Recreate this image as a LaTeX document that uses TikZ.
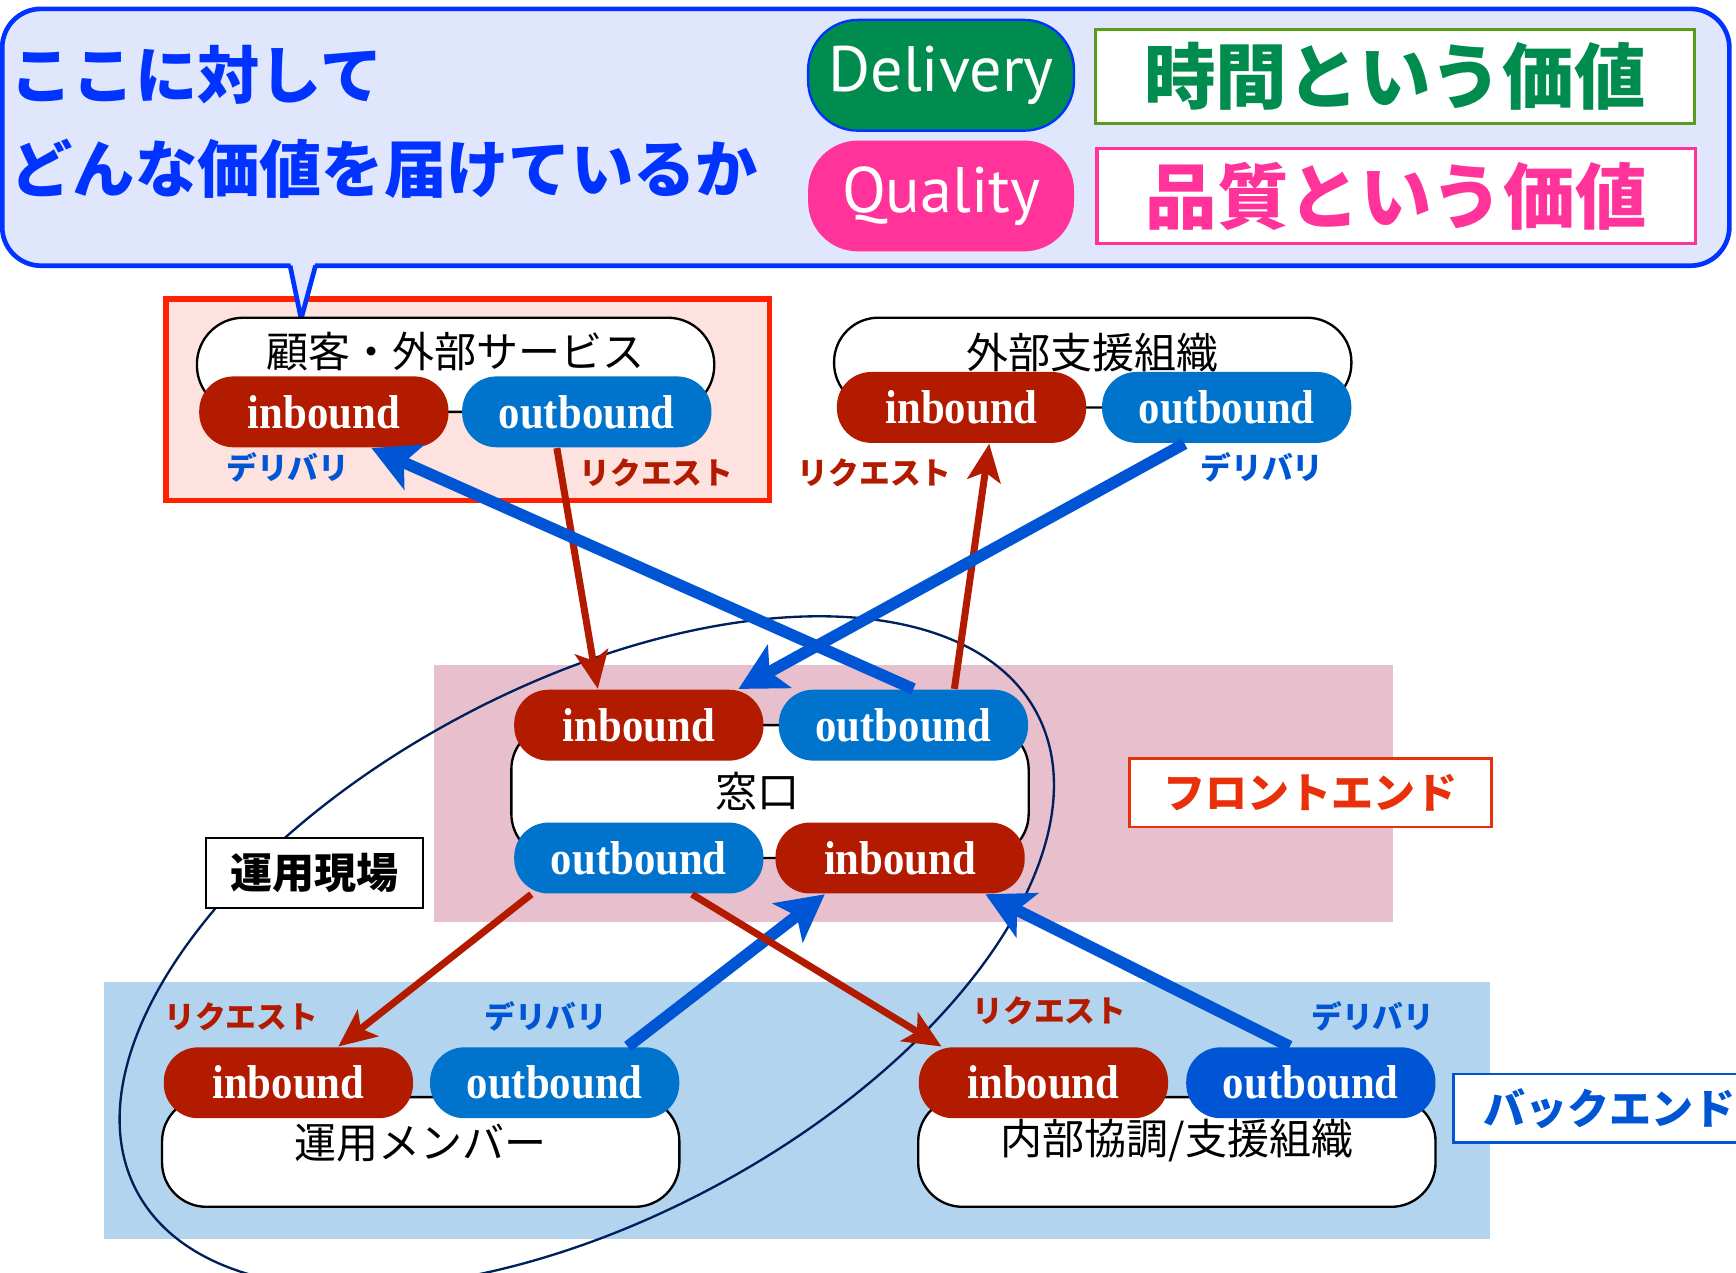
\documentclass[tikz,border=0pt]{standalone}
\usepackage{fontspec}
\setmainfont{Liberation Serif}
\newfontfamily\jpfont{Noto Sans CJK JP}
\newfontfamily\boundfont[FakeStretch=0.9]{Liberation Serif}
\newfontfamily\valuefont{PT Sans}
\usetikzlibrary{arrows.meta}

\definecolor{inred}{HTML}{B31B00}
\definecolor{outblue}{HTML}{0073CC}
\definecolor{outdeep}{HTML}{0055D4}
\definecolor{calloutblue}{HTML}{0033FF}
\definecolor{calloutfill}{HTML}{E0E6FC}
\definecolor{frontfill}{HTML}{E8C0CD}
\definecolor{backfill}{HTML}{B3D4EE}
\definecolor{custfill}{HTML}{FDE2DF}
\definecolor{custline}{HTML}{FF2200}
\definecolor{deliverygreen}{HTML}{008C4E}
\definecolor{deliveryline}{HTML}{5C9A1C}
\definecolor{qualitypink}{HTML}{FF3399}
\definecolor{fieldnavy}{HTML}{00205C}
\definecolor{frontred}{HTML}{E8300A}

\begin{document}
\begin{tikzpicture}[x=0.01cm, y=-0.01cm,
	org/.style={draw=black, line width=0.6pt, fill=white, minimum width=4.67cm, inner sep=0pt, font=\jpfont\fontsize{10.8}{12}\selectfont},
	bound/.style={rounded corners=0.31cm, minimum width=2.25cm, minimum height=0.64cm, inner sep=0pt, text=white, font=\boundfont\bfseries\fontsize{12.2}{13}\selectfont},
	in_pill/.style={bound, fill=inred},
	out_pill/.style={bound, fill=outblue},
	req_arrow/.style={draw=inred, line width=1.8pt, -{Stealth[length=0.34cm, width=0.3cm, inset=0.08cm]}},
	del_arrow/.style={draw=outdeep, line width=3pt, -{Stealth[length=0.42cm, width=0.44cm, inset=0.1cm]}},
	req_label/.style={text=inred, font=\jpfont\bfseries\fontsize{7.9}{9}\selectfont},
	del_label/.style={text=outdeep, font=\jpfont\bfseries\fontsize{7.9}{9}\selectfont},
	tag/.style={line width=0.7pt, fill=white, inner sep=0pt, minimum height=0.62cm, font=\jpfont\bfseries\fontsize{10.8}{12}\selectfont},
	value_pill/.style={rounded corners=0.45cm, minimum width=2.4cm, minimum height=1cm, text=white, font=\valuefont\fontsize{16.5}{18}\selectfont},
	value_box/.style={line width=0.8pt, fill=white, minimum width=5.4cm, minimum height=0.82cm, font=\jpfont\bfseries\fontsize{18.4}{20}\selectfont}]
	\useasboundingbox (0,0) rectangle (1568,1149);

	\fill[backfill] (94,887) rectangle (1346,1119);
	\fill[frontfill] (392,601) rectangle (1258,833);
	\draw[custline, line width=1.5pt, fill=custfill] (150,270) rectangle (695,452);

	\draw[calloutblue, line width=1.2pt, fill=calloutfill, rounded corners=0.35cm] (2,8) rectangle (1562,240);
	\fill[calloutfill] (262,236) -- (285,236) -- (272,288) -- cycle;
	\draw[calloutblue, line width=1.2pt] (262,240) -- (272,288) -- (285,240);

	\node[anchor=west, text=calloutblue, font=\jpfont\bfseries\fontsize{16}{18}\selectfont] (callout_top) at (-3,68) {ここに対して};
	\node[anchor=west, text=calloutblue, font=\jpfont\bfseries\fontsize{16}{18}\selectfont] (callout_bottom) at (-3,152) {どんな価値を届けているか};

	\node[value_pill, draw=calloutblue, line width=0.6pt, fill=deliverygreen] (delivery) at (850,68) {Delivery};
	\node[value_pill, fill=qualitypink] (quality) at (850,177) {Quality};
	\node[value_box, draw=deliveryline, text=deliverygreen] (time_value) at (1260,69) {時間という価値};
	\node[value_box, draw=qualitypink, text=qualitypink] (quality_value) at (1261,177) {品質という価値};

	\draw[fieldnavy, line width=0.6pt, rotate around={28:(530,860)}] (530,860) ellipse [x radius=4.6cm, y radius=2.41cm];

	\node[org, rounded corners=0.42cm, minimum height=0.85cm] (cust) at (411.5,329.5) {\raisebox{7.6pt}{顧客・外部サービス}};
	\node[in_pill] (cust_in) at (292.5,372) {inbound};
	\node[out_pill] (cust_out) at (530,372) {outbound};

	\node[org, rounded corners=0.4cm, minimum height=0.81cm] (ext) at (987,327.5) {\raisebox{6pt}{外部支援組織}};
	\node[in_pill] (ext_in) at (868.5,368) {inbound};
	\node[out_pill] (ext_out) at (1108,368) {outbound};

	\node[org, rounded corners=0.4cm, minimum height=1.2cm] (win) at (695.5,715) {窓口\hspace*{0.22cm}};
	\node[in_pill] (win_in_top) at (577,655) {inbound};
	\node[out_pill] (win_out_top) at (816,655) {outbound};
	\node[out_pill] (win_out_bot) at (577,775) {outbound};
	\node[in_pill] (win_in_bot) at (813,775) {inbound};

	\node[org, rounded corners=0.4cm, minimum height=0.99cm] (ops) at (380,1040.5) {\raisebox{5.5pt}{運用メンバー}};
	\node[in_pill] (ops_in) at (260.5,978) {inbound};
	\node[out_pill] (ops_out) at (501,978) {outbound};

	\node[org, rounded corners=0.4cm, minimum height=0.99cm] (int) at (1063,1040.5) {\raisebox{7.6pt}{内部協調/支援組織}};
	\node[in_pill] (int_in) at (942.5,978) {inbound};
	\node[out_pill, fill=outdeep] (int_out) at (1184,978) {outbound};

	\draw[req_arrow] ([xshift=-0.27cm]cust_out.south) -- ([xshift=-0.37cm]win_in_top.north);
	\draw[del_arrow] ([xshift=0.09cm]win_out_top.north) -- ([xshift=0.43cm]cust_in.south);
	\draw[req_arrow] ([xshift=0.46cm]win_out_top.north) -- ([xshift=0.25cm]ext_in.south);
	\draw[del_arrow] ([xshift=-0.38cm]ext_out.south) -- ([xshift=0.9cm]win_in_top.north);
	\draw[req_arrow] ([xshift=-0.97cm]win_out_bot.south) -- ([xshift=0.45cm]ops_in.north);
	\draw[del_arrow] ([xshift=0.66cm]ops_out.north) -- ([xshift=-0.68cm]win_in_bot.south);
	\draw[req_arrow] ([xshift=0.48cm]win_out_bot.south) -- ([xshift=-0.92cm]int_in.north);
	\draw[del_arrow] ([xshift=-0.19cm]int_out.north) -- ([xshift=0.77cm]win_in_bot.south);

	\node[del_label] (cust_del) at (260,422) {デリバリ};
	\node[req_label] (cust_req) at (593,427) {リクエスト};
	\node[req_label] (ext_req) at (790,427) {リクエスト};
	\node[del_label] (ext_del) at (1140,422) {デリバリ};
	\node[req_label] (ops_req) at (218,918) {リクエスト};
	\node[del_label] (ops_del) at (493,918) {デリバリ};
	\node[req_label] (int_req) at (948,913) {リクエスト};
	\node[del_label] (int_del) at (1240,918) {デリバリ};

	\node[tag, draw=frontred, text=frontred, minimum width=3.27cm] (front_tag) at (1183.5,716) {フロントエンド};
	\node[tag, draw=outdeep, text=outdeep, minimum width=2.82cm] (back_tag) at (1454,1001) {バックエンド};
	\node[tag, draw=black, minimum width=1.96cm, minimum height=0.63cm] (field_tag) at (284,788.5) {運用現場};
\end{tikzpicture}
\end{document}
